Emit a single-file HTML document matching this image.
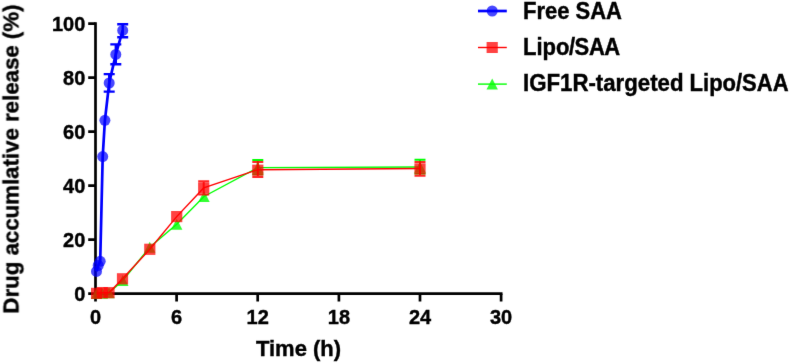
<!DOCTYPE html>
<html><head><meta charset="utf-8"><title>Drug release</title>
<style>
html,body{margin:0;padding:0;background:#fff;}
body{width:791px;height:363px;overflow:hidden;}
svg{display:block;}
text{font-family:"Liberation Sans",sans-serif;font-weight:bold;fill:#000;stroke:#000;stroke-width:0.4px;}
.t{font-size:20px;}
.l{font-size:22px;}
</style></head><body>
<svg width="791" height="363" viewBox="0 0 791 363">
<rect width="791" height="363" fill="#fff"/>
<defs><filter id="b" x="-5%" y="-5%" width="110%" height="110%" color-interpolation-filters="sRGB"><feConvolveMatrix order="3" kernelMatrix="0.0049 0.0602 0.0049 0.0602 0.7396 0.0602 0.0049 0.0602 0.0049" edgeMode="none"/></filter></defs>
<g filter="url(#b)">
<g stroke="#000" stroke-width="2.7" fill="none">
<path d="M95.5 22.35V301.6"/>
<path d="M88.2 293.7H502.5"/>
<path d="M88.2 239.7H95.5M88.2 185.7H95.5M88.2 131.7H95.5M88.2 77.7H95.5M88.2 23.7H95.5"/>
<path d="M176.6 293.7V301.6M257.7 293.7V301.6M338.9 293.7V301.6M420.0 293.7V301.6M501.1 293.7V301.6"/>
</g>
<text class="t" text-anchor="end" transform="translate(85.3 300.8) scale(1 1.045)">0</text>
<text class="t" text-anchor="end" transform="translate(85.3 246.8) scale(1 1.045)">20</text>
<text class="t" text-anchor="end" transform="translate(85.3 192.8) scale(1 1.045)">40</text>
<text class="t" text-anchor="end" transform="translate(85.3 138.8) scale(1 1.045)">60</text>
<text class="t" text-anchor="end" transform="translate(85.3 84.8) scale(1 1.045)">80</text>
<text class="t" text-anchor="end" transform="translate(85.3 30.8) scale(1 1.045)">100</text>
<text class="t" text-anchor="middle" transform="translate(95.5 324) scale(1 1.045)">0</text>
<text class="t" text-anchor="middle" transform="translate(176.6 324) scale(1 1.045)">6</text>
<text class="t" text-anchor="middle" transform="translate(257.7 324) scale(1 1.045)">12</text>
<text class="t" text-anchor="middle" transform="translate(338.9 324) scale(1 1.045)">18</text>
<text class="t" text-anchor="middle" transform="translate(420.0 324) scale(1 1.045)">24</text>
<text class="t" text-anchor="middle" transform="translate(501.1 324) scale(1 1.045)">30</text>
<text class="l" text-anchor="middle" transform="translate(298.5 355.9) scale(1 1.045)">Time (h)</text>
<text class="l" text-anchor="middle" transform="translate(18.4 159.0) rotate(-90) scale(1.012 1.045)">Drug accumlative release (%)</text>
<g stroke="#00ff00" stroke-width="1.4" fill="none">
<path d="M96.6 293.5L102.3 293.2L109 292.8L122.8 280.5L149.7 247.3L176.7 224.2L204 196.5L257.8 167.6L420 167"/>
<path stroke-width="2" d="M257.8 160.0V174.2M252.3 160.0H263.3M252.3 174.2H263.3M420 159.8V173.5M414.5 159.8H425.5M414.5 173.5H425.5"/>
</g>
<g fill="#00ff00" fill-opacity="0.8">
<path d="M96.6 288.0l5.7 11h-11.4z"/>
<path d="M102.3 287.7l5.7 11h-11.4z"/>
<path d="M109 287.3l5.7 11h-11.4z"/>
<path d="M122.8 275.0l5.7 11h-11.4z"/>
<path d="M149.7 241.8l5.7 11h-11.4z"/>
<path d="M176.7 218.7l5.7 11h-11.4z"/>
<path d="M204 191.0l5.7 11h-11.4z"/>
<path d="M257.8 162.1l5.7 11h-11.4z"/>
<path d="M420 161.5l5.7 11h-11.4z"/>
</g>
<g stroke="#ff0000" stroke-width="1.4" fill="none">
<path d="M96.6 293.4L102.3 292.6L109 292.7L122.5 278.8L149.8 249.3L176.7 216.6L203.7 187.9L257.8 169.7L420 168.5"/>
<path stroke-width="2" stroke-opacity="0.85" d="M203.7 181.2V194.4M198.2 181.2H209.2M198.2 194.4H209.2M257.8 162.1V177.1M252.3 162.1H263.3M252.3 177.1H263.3M420 161.9V175.8M414.5 161.9H425.5M414.5 175.8H425.5"/>
</g>
<g fill="#ff0000" fill-opacity="0.74">
<rect x="91.0" y="287.8" width="11.2" height="11.2"/>
<rect x="96.7" y="287.0" width="11.2" height="11.2"/>
<rect x="103.4" y="287.1" width="11.2" height="11.2"/>
<rect x="116.9" y="273.2" width="11.2" height="11.2"/>
<rect x="144.2" y="243.7" width="11.2" height="11.2"/>
<rect x="171.1" y="211.0" width="11.2" height="11.2"/>
<rect x="198.1" y="182.3" width="11.2" height="11.2"/>
<rect x="252.2" y="164.6" width="11.2" height="11.2"/>
<rect x="414.4" y="163.3" width="11.2" height="11.2"/>
</g>
<g stroke="#0000ff" stroke-width="2.7" fill="none" stroke-linejoin="round">
<path d="M96.5 271.4L98.2 265.5L100.2 261.3L102.7 156.6L104.9 120.3L109.2 83L115.8 54.4L122.7 30.4"/>
</g>
<g stroke="#0000ff" stroke-width="2.4" fill="none">
<path d="M109.2 74.1V91.6M103.7 74.1H114.7M103.7 91.6H114.7M115.8 44.4V64.2M110.3 44.4H121.3M110.3 64.2H121.3M122.7 24.2V37.3M117.2 24.2H128.2M117.2 37.3H128.2"/>
</g>
<g fill="#0000ff" fill-opacity="0.72">
<circle cx="96.5" cy="271.4" r="5.5"/>
<circle cx="98.2" cy="265.5" r="5.5"/>
<circle cx="100.2" cy="261.3" r="5.5"/>
<circle cx="102.7" cy="156.6" r="5.5"/>
<circle cx="104.9" cy="120.3" r="5.5"/>
<circle cx="109.2" cy="83" r="5.5"/>
<circle cx="115.8" cy="54.4" r="5.5"/>
<circle cx="122.7" cy="30.4" r="5.5"/>
</g>
<path d="M478 11H506.8" stroke="#0000ff" stroke-width="2.7"/>
<circle cx="492.2" cy="11" r="5.5" fill="#0000ff" fill-opacity="0.72"/>
<path d="M478 47.5H506.8" stroke="#ff0000" stroke-width="1.4"/>
<rect x="486.6" y="42" width="11.2" height="11" fill="#ff0000" fill-opacity="0.74"/>
<path d="M478 84.1H506.8" stroke="#00ff00" stroke-width="1.4"/>
<path d="M492.2 78.6l5.7 11h-11.4z" fill="#00ff00" fill-opacity="0.8"/>
<text class="l" text-anchor="start" transform="translate(523.0 18.65) scale(1 1.06)">Free SAA</text>
<text class="l" text-anchor="start" transform="translate(523.0 54.7) scale(1 1.06)">Lipo<tspan dx="-0.3">/</tspan><tspan dx="-0.6">S</tspan><tspan dx="-0.2">A</tspan><tspan dx="-0.8">A</tspan></text>
<text class="l" text-anchor="start" transform="translate(523.0 91.15) scale(1.011 1.06)">IGF1R-targeted</text>
<text class="l" text-anchor="start" transform="translate(689.6 91.15) scale(1 1.06)">Lipo/SAA</text>
</g>
</svg>
</body></html>
